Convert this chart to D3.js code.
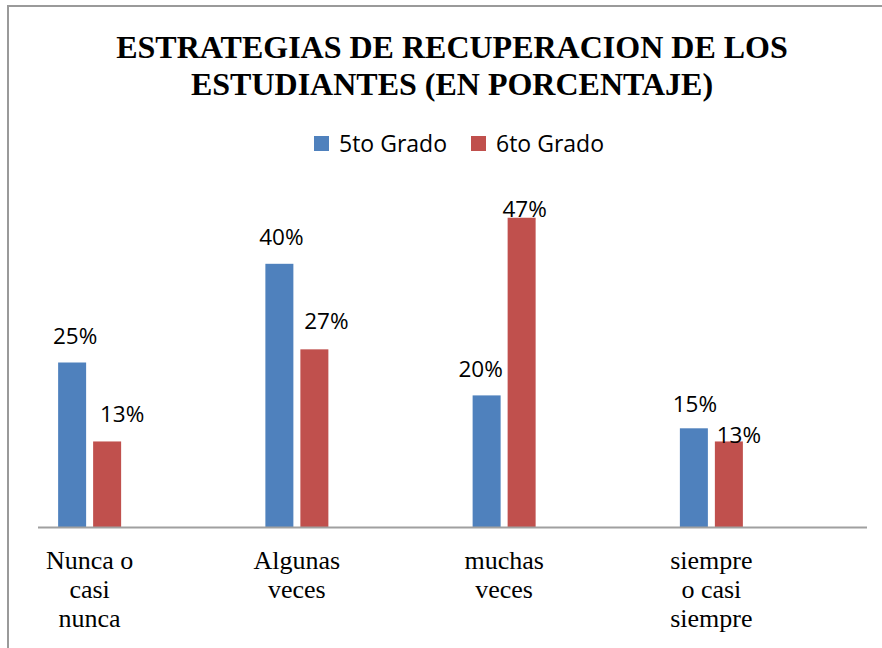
<!DOCTYPE html>
<html>
<head>
<meta charset="utf-8">
<script src="https://cdn.jsdelivr.net/npm/d3@7"></script>
<style>
  body { margin: 0; background: #fff; }
</style>
</head>
<body>
<div id="chart"></div>
<script>
// data
const categories = [["Nunca o", "casi", "nunca"], ["Algunas", "veces"], ["muchas", "veces"], ["siempre", "o casi", "siempre"]];
const seriesNames = ["5to Grado", "6to Grado"];
const grado5 = [25, 40, 20, 15];
const grado6 = [13, 27, 47, 13];
const titleLines = ["ESTRATEGIAS DE RECUPERACION DE LOS", "ESTUDIANTES (EN PORCENTAJE)"];

const colors = ["#4F81BD", "#C0504D"];
const width = 882;
const height = 648;

// the data labels were dragged by hand in the original, so nudge them a bit
const labelNudge = [
  [[3, -19], [2, -19], [-6, -18], [1, -16]],
  [[15, -19], [12, -20], [3, -1], [10, 2]]
];

const catKeys = categories.map(c => c.join(" "));
const rows = catKeys.map((k, i) => ({ key: k, lines: categories[i], values: [grado5[i], grado6[i]] }));

const svg = d3.select("#chart")
  .append("svg")
  .attr("width", width)
  .attr("height", height);

// chart frame (runs off the right and bottom edges)
svg.append("rect")
  .attr("x", 8)
  .attr("y", 6)
  .attr("width", 900)
  .attr("height", 700)
  .attr("fill", "#fff")
  .attr("stroke", "#9a9a9a")
  .attr("stroke-width", 2);

// scales
const x0 = d3.scaleBand()
  .domain(catKeys)
  .range([-14, 815]);

const x1 = d3.scaleBand()
  .domain(seriesNames)
  .range([0, 63])
  .paddingInner(0.2);

const y = d3.scaleLinear()
  .domain([0, 50])
  .range([527, 198]);

// title
svg.append("g")
  .selectAll("text")
  .data(titleLines)
  .enter()
  .append("text")
  .attr("x", 452)
  .attr("y", (d, i) => 58 + i * 37)
  .attr("text-anchor", "middle")
  .attr("font-family", "'Liberation Serif', 'Times New Roman', serif")
  .attr("font-weight", "bold")
  .attr("font-size", 32)
  .attr("fill", "#000")
  .text(d => d);

// legend
const legendX = [314, 471];
const legend = svg.append("g")
  .selectAll("g")
  .data(seriesNames)
  .enter()
  .append("g")
  .attr("transform", (d, i) => `translate(${legendX[i]}, 136)`);

legend.append("rect")
  .attr("width", 15)
  .attr("height", 15)
  .attr("fill", (d, i) => colors[i]);

legend.append("text")
  .attr("x", 25)
  .attr("y", 16)
  .attr("font-family", "'Open Sans', sans-serif")
  .attr("font-size", 23)
  .attr("fill", "#000")
  .text(d => d);

// bars
const groups = svg.append("g")
  .selectAll("g")
  .data(rows)
  .enter()
  .append("g")
  .attr("transform", d => `translate(${x0(d.key) + x0.bandwidth() / 2 - 31.5}, 0)`);

groups.selectAll("rect")
  .data(d => d.values.map((v, s) => ({ v, s, name: seriesNames[s] })))
  .enter()
  .append("rect")
  .attr("x", d => x1(d.name))
  .attr("y", d => y(d.v))
  .attr("width", x1.bandwidth())
  .attr("height", d => y(0) - y(d.v))
  .attr("fill", d => colors[d.s]);

// axis line
svg.append("line")
  .attr("x1", 38)
  .attr("x2", 867)
  .attr("y1", 527.5)
  .attr("y2", 527.5)
  .attr("stroke", "#a0a0a0")
  .attr("stroke-width", 2);

// data labels
groups.each(function (row, ci) {
  d3.select(this).selectAll("text.val")
    .data(row.values.map((v, s) => ({ v, s, name: seriesNames[s] })))
    .enter()
    .append("text")
    .attr("class", "val")
    .attr("x", d => x1(d.name) + x1.bandwidth() / 2 + labelNudge[d.s][ci][0])
    .attr("y", d => y(d.v) + labelNudge[d.s][ci][1])
    .attr("text-anchor", "middle")
    .attr("font-family", "'Open Sans', sans-serif")
    .attr("font-size", 22.5)
    .attr("fill", "#000")
    .text(d => d.v + "%");
});

// category labels
const catLabels = svg.append("g")
  .selectAll("text")
  .data(rows)
  .enter()
  .append("text")
  .attr("x", d => x0(d.key) + x0.bandwidth() / 2)
  .attr("y", 569)
  .attr("text-anchor", "middle")
  .attr("font-family", "'Liberation Serif', 'Times New Roman', serif")
  .attr("font-size", 26)
  .attr("fill", "#000");

catLabels.selectAll("tspan")
  .data(d => d.lines)
  .enter()
  .append("tspan")
  .attr("x", function () { return this.parentNode.getAttribute("x"); })
  .attr("dy", (d, i) => i === 0 ? 0 : 29)
  .text(d => d);
</script>
</body>
</html>
